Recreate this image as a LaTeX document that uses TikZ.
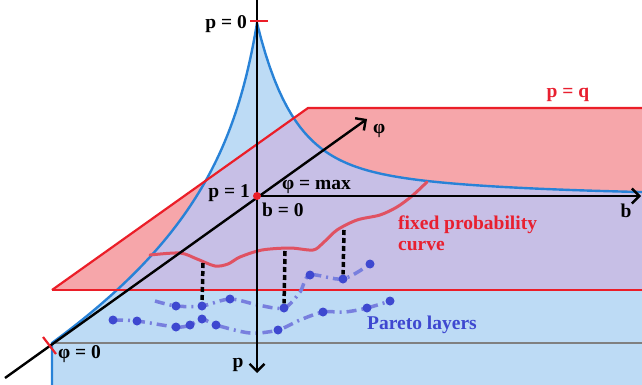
\documentclass[tikz,border=0pt]{standalone}
\usepackage{fontspec}
\setmainfont{Liberation Serif}
\usepackage{tikz}
\usetikzlibrary{arrows.meta, positioning}
\definecolor{skyfill}{RGB}{189,219,245}
\definecolor{rosefill}{RGB}{246,166,170}
\definecolor{lilacfill}{RGB}{199,191,230}
\definecolor{planeedge}{RGB}{235,30,40}
\definecolor{cuspedge}{RGB}{40,130,215}
\definecolor{probred}{RGB}{224,82,98}
\definecolor{paretoblue}{RGB}{62,72,208}
\definecolor{labelred}{RGB}{232,32,48}

\newcommand{\cuspline}{(52,385) -- (52,343)
  .. controls (192,240) and (236,150) .. (257,23)
  -- plot[domain=257:642, samples=90] (\x, {196 - 135*exp(-(\x-257)/35) - 38*exp(-(\x-257)/170)})}
\newcommand{\planeregion}{(52,290) -- (308,108) -- (642,108) -- (642,290) -- cycle}

\begin{document}
\begin{tikzpicture}[
    x=1pt, y=-1pt,
    font=\bfseries\fontsize{19.5}{21}\selectfont,
    lbl/.style={inner sep=0pt},
    axis/.style={line width=2.4pt, -{Straight Barb[length=7.5pt, width=15pt]}},
    rim/.style={draw=planeedge, line width=2.2pt},
    cusp/.style={draw=cuspedge, line width=2.4pt},
    tick/.style={planeedge, line width=2.2pt},
    probcurve/.style={probred, line width=3pt, line cap=round},
    layer/.style={paretoblue!70, line width=3.5pt, dash pattern=on 10pt off 5pt on 2pt off 5pt},
    pdot/.style={circle, fill=paretoblue, inner sep=0pt, minimum size=9pt},
    drop/.style={line width=3.5pt, dash pattern=on 5pt off 3pt}
  ]
  \useasboundingbox (0,0) rectangle (642,385);
  % planes
  \fill[skyfill] \cuspline -- (642,385) -- cycle;
  \fill[rosefill] \planeregion;
  \begin{scope}
    \clip \cuspline -- (642,385) -- cycle;
    \fill[lilacfill] \planeregion;
  \end{scope}
  \draw[gray, line width=2pt] (52,343) -- (642,343);
  \draw[cusp] \cuspline;
  \draw[rim] (52,290) -- (308,108) -- (642,108);
  \draw[rim] (52,290) -- (642,290);

  % fixed probability curve
  \draw[probcurve] plot[smooth] coordinates {(150,255) (180,253) (197,259) (215,266) (228,264) (240,257) (262,250) (290,248) (313,250) (323,243) (337,230) (357,220) (380,215) (397,207) (412,196) (427,182)};
  \coordinate (c1) at (203,263);
  \coordinate (c2) at (285,251);
  \coordinate (c3) at (344,230);

  % pareto layers
  \foreach \n/\x/\y in {a1/176/306, a2/202/306, a3/230/299, a4/284/308, a5/310/275, a6/343/279, a7/370/264,
      b1/113/320, b2/137/321, b3/176/327, b4/190/325, b5/202/319, b6/216/325, b7/278/330, b8/323/312, b9/367/308, b10/390/301}
    \coordinate (\n) at (\x,\y);
  \draw[layer] plot[smooth] coordinates {(155,301) (a1) (a2) (a3) (258,305) (a4) (300,292) (a5) (a6) (a7)};
  \draw[layer] plot[smooth] coordinates {(b1) (b2) (b3) (b4) (b5) (b6) (250,333) (b7) (300,320) (b8) (345,312) (b9) (b10)};
  \foreach \n in {a1,a2,a3,a4,a5,a6,a7,b1,b2,b3,b4,b5,b6,b7,b8,b9,b10}
    \node[pdot] (d\n) at (\n) {};
  \draw[drop] (c1) -- (da2);
  \draw[drop] (c2) -- (da4);
  \draw[drop] (c3) -- (da6);

  % axes
  \coordinate (O) at (257,196);
  \coordinate (ptop) at (257,0);
  \coordinate (pbot) at (257,373);
  \coordinate (bend) at (641,196);
  \coordinate (phistart) at (5,378);
  \coordinate (phiend) at (367,119);
  \draw[axis] (ptop) -- (pbot);
  \draw[axis] (O) -- (bend);
  \draw[axis] (phistart) -- (phiend);
  \node[circle, fill=planeedge, inner sep=0pt, minimum size=8pt] (origin) at (O) {};

  % ticks
  \coordinate (pzero) at (258,21);
  \coordinate (phizero) at (50,345);
  \draw[tick] ([xshift=-8pt]pzero) -- ([xshift=10pt]pzero);
  \draw[tick] ([shift={(-7,-8)}]phizero) -- ([shift={(6,9)}]phizero);

  % labels
  \node[lbl, anchor=base east] (lp0) at (247,29) {p = 0};
  \node[lbl, anchor=base east] (lp1) at (250,197) {p = 1};
  \node[lbl, anchor=base west] (lphimax) at (282,189) {φ = max};
  \node[lbl, anchor=base west] (lb0) at (262,216) {b = 0};
  \node[lbl, anchor=base] (lb) at (626,217) {b};
  \node[lbl, anchor=base west] (lphi) at (373,133) {φ};
  \node[lbl, anchor=base] (lp) at (238,367) {p};
  \node[lbl, anchor=base west] (lphi0) at (58,358) {φ = 0};
  \node[lbl, anchor=base, text=labelred] (lpq) at (568,98) {p = q};
  \node[lbl, anchor=base west, text=labelred] (lfix) at (398,229) {fixed probability};
  \node[lbl, anchor=base west, text=labelred] (lcurve) at (398,250) {curve};
  \node[lbl, anchor=base west, text=paretoblue] (lpareto) at (367,329) {Pareto layers};
\end{tikzpicture}
\end{document}
